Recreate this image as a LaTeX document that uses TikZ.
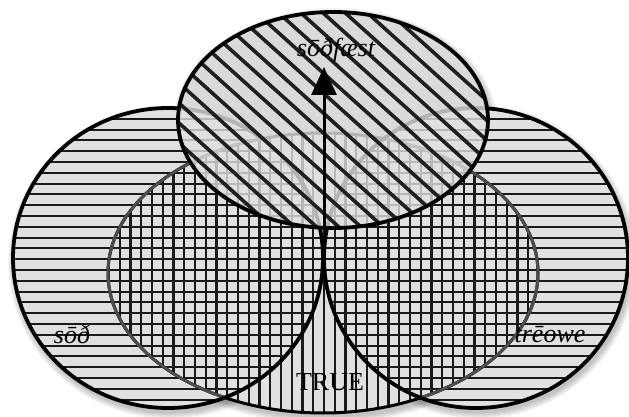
\documentclass[tikz,border=0pt]{standalone}
\usepackage{fontspec}
\setmainfont{Liberation Serif}
\usetikzlibrary{arrows.meta}
\definecolor{fillc}{HTML}{E0E0E0}
\definecolor{hatchc}{HTML}{1A1A1A}
\definecolor{rimgray}{HTML}{4C4C4C}
\begin{document}
\begin{tikzpicture}[x=1pt,y=-1pt,
  hatch/.style={line width=2.1pt, draw=hatchc},
  diag/.style={line width=3.6pt, draw=black!88},
  rim/.style={line width=3.8pt, draw=black},
  midrim/.style={line width=3pt},
  shade/.style={fill=black, fill opacity=0.035},
  lab/.style={font=\fontsize{26}{30}\selectfont\itshape, inner sep=0pt, anchor=base},
  arrowline/.style={line width=3pt, draw=black, -{Triangle[length=28pt,width=25pt]}},
]
\useasboundingbox (0,0) rectangle (629,417);
\fill[white] (0,0) rectangle (629,417);

% centres
\coordinate (cL) at (168,258);
\coordinate (cR) at (476,258);
\coordinate (cM) at (323,273);
\coordinate (cT) at (333,120);

% soft shadows
\foreach \s in {1,...,7}{
  \fill[shade] (170,262) ellipse [x radius={155pt+\s pt}, y radius={150pt+\s pt}];
  \fill[shade] (478,262) ellipse [x radius={152pt+\s pt}, y radius={150pt+\s pt}];
  \fill[shade] (325,277) ellipse [x radius={215pt+\s pt}, y radius={140pt+\s pt}];
  \fill[shade] (335,123) ellipse [x radius={155pt+\s pt}, y radius={108pt+\s pt}];
}

% base fills
\fill[fillc] (cM) ellipse [x radius=215pt, y radius=140pt];
\fill[fillc] (cL) ellipse [x radius=155pt, y radius=150pt];
\fill[fillc] (cR) ellipse [x radius=152pt, y radius=150pt];

% vertical hatching (TRUE)
\begin{scope}
  \clip (cM) ellipse [x radius=215pt, y radius=140pt];
  \foreach \k in {-22,...,22}{
    \draw[hatch] ({324+\k*10.75},100) -- ({324+\k*10.75},417);
  }
\end{scope}

% horizontal hatching (left, right)
\begin{scope}
  \clip (cL) ellipse [x radius=155pt, y radius=150pt];
  \foreach \k in {-16,...,14}{
    \draw[hatch] (0,{270+\k*10.8}) -- (330,{270+\k*10.8});
  }
\end{scope}
\begin{scope}
  \clip (cR) ellipse [x radius=152pt, y radius=150pt];
  \foreach \k in {-16,...,14}{
    \draw[hatch] (315,{270+\k*10.8}) -- (629,{270+\k*10.8});
  }
\end{scope}

% middle outline: black, gray where covered by left/right
\draw[midrim, draw=black] (cM) ellipse [x radius=215pt, y radius=140pt];
\begin{scope}
  \clip (cL) ellipse [x radius=155pt, y radius=150pt];
  \draw[midrim, draw=rimgray] (cM) ellipse [x radius=215pt, y radius=140pt];
\end{scope}
\begin{scope}
  \clip (cR) ellipse [x radius=152pt, y radius=150pt];
  \draw[midrim, draw=rimgray] (cM) ellipse [x radius=215pt, y radius=140pt];
\end{scope}

% left/right outlines
\draw[rim] (cL) ellipse [x radius=155pt, y radius=150pt];
\draw[rim] (cR) ellipse [x radius=152pt, y radius=150pt];

% top ellipse (sodfaest)
\fill[fillc, fill opacity=0.8] (cT) ellipse [x radius=155pt, y radius=108pt];
\begin{scope}
  \clip (cT) ellipse [x radius=155pt, y radius=108pt];
  \foreach \k in {-16,...,22}{
    \draw[diag] ({42.3+\k*22.2-100/0.9},-100) -- ({42.3+\k*22.2+400/0.9},400);
  }
\end{scope}
\draw[rim] (cT) ellipse [x radius=155pt, y radius=108pt];

% arrow
\coordinate (abase) at (324,228);
\coordinate (atip) at (324,67);
\draw[arrowline] (abase) -- (atip);

% labels
\node[lab] (lsf) at (336,57) {sōðfæst};
\node[lab] (lsod) at (72,343) {sōð};
\node[lab] (ltr) at (550,342) {trēowe};
\node[lab, font=\fontsize{26}{30}\selectfont\upshape] (ltrue) at (330,390) {TRUE};
\end{tikzpicture}
\end{document}
